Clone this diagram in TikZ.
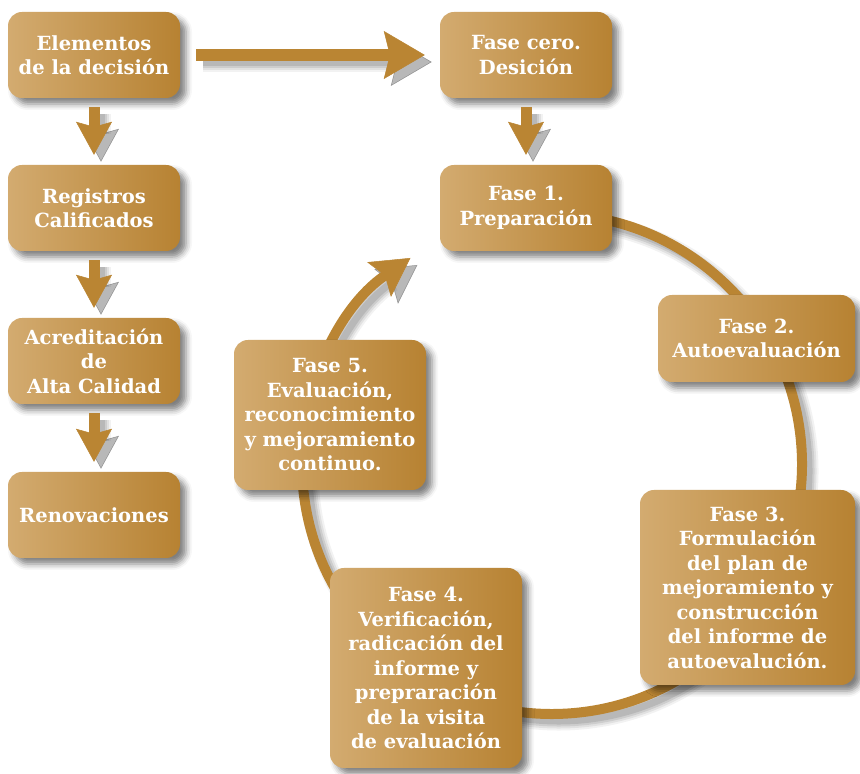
\documentclass[tikz,border=0pt]{standalone}
\usepackage{fontspec}
\setmainfont{DejaVu Serif}
\usetikzlibrary{arrows.meta,shadows.blur}
\definecolor{boxL}{RGB}{211,171,112}
\definecolor{boxR}{RGB}{183,130,50}
\definecolor{arr}{RGB}{186,133,51}
\begin{document}
\begin{tikzpicture}[x=1pt,y=1pt,
  box/.style={rounded corners=14pt, left color=boxL, right color=boxR, draw=none,
    text=white, font=\bfseries\fontsize{19.5}{24.5}\selectfont, align=center, inner sep=0pt,
    blur shadow={shadow xshift=6pt, shadow yshift=-6pt, shadow blur radius=6pt, shadow opacity=50}},
  arrshadow/.style={
    preaction={draw=black, opacity=0.05, line width=#1+9pt, transform canvas={shift={(7pt,-7pt)}}},
    preaction={draw=black, opacity=0.07, line width=#1+5pt, transform canvas={shift={(7pt,-7pt)}}},
    preaction={draw=black, opacity=0.09, line width=#1+1pt, transform canvas={shift={(7pt,-7pt)}}},
    preaction={draw=black, opacity=0.10, line width=#1-3pt, transform canvas={shift={(7pt,-7pt)}}},
    draw=arr, line width=#1},
  downarrow/.style={arrshadow=11pt, -{Stealth[length=33pt,width=36pt,inset=5pt,line width=0.5pt]},
    shorten <=9pt, shorten >=10pt},
  rightarrow/.style={arrshadow=12pt, -{Stealth[length=41pt,width=48pt,inset=6pt,line width=0.5pt]},
    shorten <=16pt, shorten >=15pt},
  cyclearrow/.style={arrshadow=10pt, -{Stealth[length=38pt,width=42pt,inset=7pt,line width=0.5pt]}}
]
\useasboundingbox (0,0) rectangle (860,774);

% cycle arc (behind the boxes)
\coordinate (cc) at (552,310);
\draw[cyclearrow] ([shift={(95:250)}]cc) arc[start angle=95, end angle=-235.5, radius=250];

% left column
\node[box, minimum width=172pt, minimum height=86pt] (elem) at (94,719) {Elementos\\de la decisión};
\node[box, minimum width=172pt, minimum height=86pt] (reg) at (94,566) {Registros\\Calificados};
\node[box, minimum width=172pt, minimum height=86pt] (acr) at (94,413) {Acreditación\\de\\Alta Calidad};
\node[box, minimum width=172pt, minimum height=86pt] (ren) at (94,259) {Renovaciones};

% phases
\node[box, minimum width=172pt, minimum height=86pt] (f0) at (526,719) {Fase cero.\\Desición};
\node[box, minimum width=172pt, minimum height=86pt] (f1) at (526,566) {Fase 1.\\Preparación};
\node[box, minimum width=197pt, minimum height=87pt] (f2) at (756.5,435.5) {Fase 2.\\Autoevaluación};
\node[box, minimum width=215pt, minimum height=195pt] (f3) at (747.5,186.5) {Fase 3.\\Formulación\\del plan de\\mejoramiento y\\construcción\\del informe de\\autoevalución.};
\node[box, minimum width=192pt, minimum height=200pt] (f4) at (426,106) {Fase 4.\\Verificación,\\radicación del\\informe y\\prepraración\\de la visita\\de evaluación};
\node[box, minimum width=192pt, minimum height=150pt] (f5) at (330,359) {Fase 5.\\Evaluación,\\reconocimiento\\y mejoramiento\\continuo.};

% straight arrows
\draw[rightarrow] (elem.east) -- (f0.west);
\draw[downarrow] (elem.south) -- (reg.north);
\draw[downarrow] (reg.south) -- (acr.north);
\draw[downarrow] (acr.south) -- (ren.north);
\draw[downarrow] (f0.south) -- (f1.north);
\end{tikzpicture}
\end{document}
